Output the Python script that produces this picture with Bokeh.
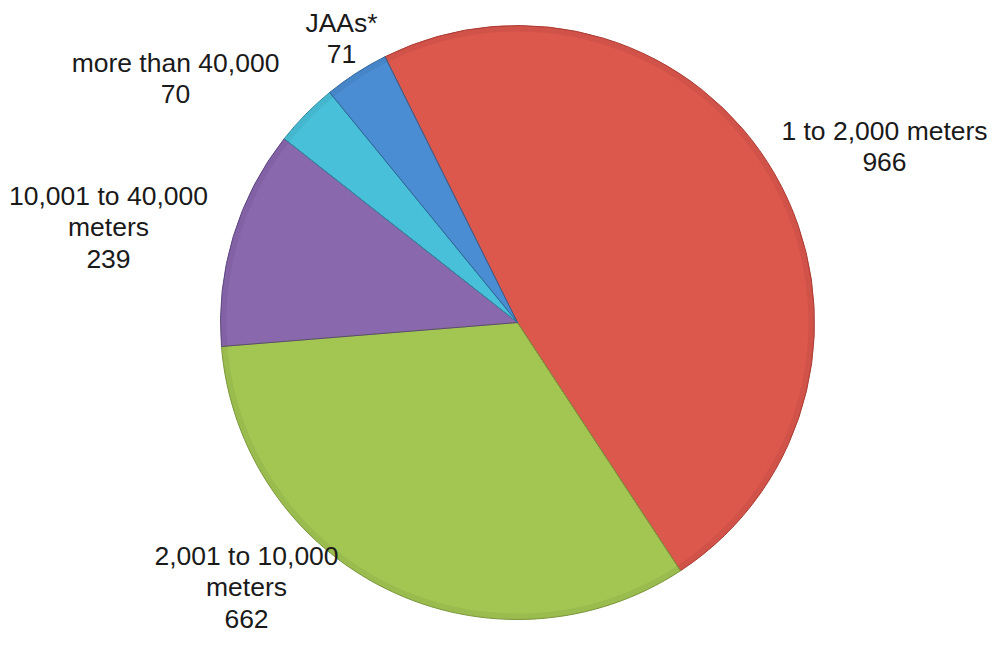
import math
from bokeh.plotting import figure
from bokeh.models import Range1d, ColumnDataSource
from bokeh.core.properties import value
from bokeh.embed import file_html
from bokeh.resources import INLINE

categories = ["1 to 2,000 meters", "2,001 to 10,000\nmeters", "10,001 to 40,000\nmeters",
              "more than 40,000", "JAAs*"]
counts = [966, 662, 239, 70, 71]
colors = ["#DC574C", "#A3C653", "#8A68AE", "#48C0DA", "#4A8DD3"]
edge_colors = ["#A83C34", "#7A963A", "#5E4680", "#2E8BA0", "#2F659C"]

# label anchor (center of text block) in pixel coordinates from the top-left
label_px = [(884, 146), (246, 587), (108, 227), (175, 78), (341, 38)]

W, H = 992, 640
p = figure(width=W, height=H, output_backend="svg", toolbar_location=None,
           x_range=Range1d(0, W), y_range=Range1d(0, H), min_border=0)
p.axis.visible = False
p.grid.visible = False
p.outline_line_color = None
p.background_fill_color = "white"
p.border_fill_color = "white"

cx, cy_px, r = 517, 322, 297
cy = H - cy_px

total = sum(counts)
start = math.radians(90 + 26.5)
starts, ends = [], []
a = start
for c in counts:
    span = 2 * math.pi * c / total
    starts.append(a)
    ends.append(a - span)
    a -= span

src = ColumnDataSource(dict(start=starts, end=ends, color=colors, edge=edge_colors))
p.wedge(x=cx, y=cy, radius=r, start_angle="start", end_angle="end", direction="clock",
        fill_color="color", line_color=None, source=src)
# soft darker rim near the outer edge (bevel look)
p.annular_wedge(x=cx, y=cy, inner_radius=r - 6, outer_radius=r, start_angle="start",
                end_angle="end", direction="clock", fill_color="black", fill_alpha=0.05,
                line_color=None, source=src)
p.wedge(x=cx, y=cy, radius=r, start_angle="start", end_angle="end", direction="clock",
        fill_color=None, line_color="edge", line_width=1, source=src)

labels = [f"{c}\n{v}" for c, v in zip(categories, counts)]
lx = [x for x, _ in label_px]
ly = [H - y for _, y in label_px]
p.text(x=lx, y=ly, text=labels, text_align="center", text_baseline="middle",
       text_font=value("Liberation Sans"), text_font_size="26.5px", text_color="#1a1a1a",
       text_line_height=1.035)

open("out.html", "w").write(file_html(p, INLINE))
